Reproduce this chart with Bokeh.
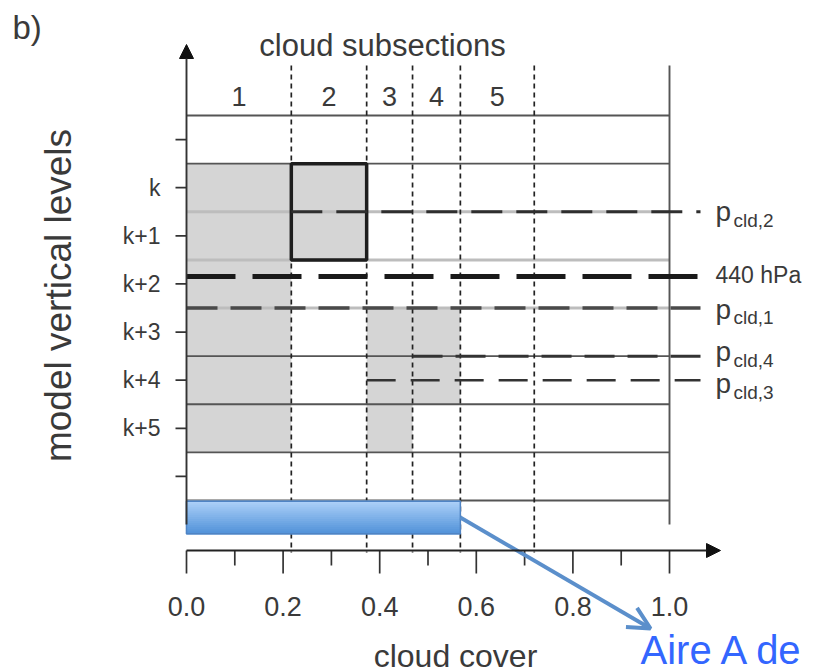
import numpy as np
from bokeh.plotting import figure
from bokeh.models import Range1d, Arrow, NormalHead, OpenHead, ColumnDataSource
from bokeh.core.properties import value
from bokeh.embed import file_html
from bokeh.resources import INLINE

# ---------------- data ----------------
subsection_edges = [0.0, 0.217, 0.373, 0.468, 0.567, 0.72]
subsection_labels = ["1", "2", "3", "4", "5"]
cloud_top_level = [0, 0, 3, 3]        # first cloudy level (k+n) of subsections 1-4
cloud_bottom_level = [5, 1, 5, 4]     # last cloudy level of subsections 1-4
level_values = [-1, 0, 1, 2, 3, 4, 5, 6]
level_labels = ["", "k", "k+1", "k+2", "k+3", "k+4", "k+5", ""]
cover_ticks = [0.0, 0.2, 0.4, 0.6, 0.8, 1.0]
cover_tick_labels = ["0.0", "0.2", "0.4", "0.6", "0.8", "1.0"]
cover_minor_ticks = [0.1, 0.3, 0.5, 0.7, 0.9]
total_cover = 0.567
p_main = ["p", "440 hPa", "p", "p", "p"]
p_sub = ["cld,2", "", "cld,1", "cld,4", "cld,3"]
p_levels = [0.5, 1.845, 2.5, 3.5, 4.0]
p_start = [0.217, 0.0, 0.0, 0.468, 0.373]

# ---------------- layout helpers (pixel -> data) ----------------
def xd(px):
    return (px - 186.0) / 483.0

def yd(py):
    return (py - 115.0) / 48.125 - 1.5

def ypx(lev):
    return 115.0 + (lev + 1.5) * 48.125

FONT = value("Liberation Sans")
TXT = "#3a3a3a"

p = figure(width=818, height=672, output_backend="svg", toolbar_location=None,
           x_range=Range1d(xd(0), xd(818)), y_range=Range1d(yd(672), yd(0)),
           min_border=0, x_axis_location=None, y_axis_location=None,
           outline_line_color=None, background_fill_color="white")
p.grid.visible = False

# gray cloudy cells
cl = subsection_edges[:4]
cr = subsection_edges[1:5]
p.quad(left=cl, right=cr,
       top=[t - 0.5 for t in cloud_top_level],
       bottom=[b + 0.5 for b in cloud_bottom_level],
       fill_color="#d5d5d5", line_color=None)

# level boundary lines
bounds = np.arange(-1.5, 7.0, 1.0)
light = [b in (0.5, 1.5, 2.5) for b in bounds]
p.segment(x0=[0.0] * len(bounds), x1=[1.0] * len(bounds), y0=bounds, y1=bounds,
          line_color=["#bdbdbd" if l else "#555555" for l in light],
          line_width=[3.0 if l else 1.8 for l in light])

# vertical dashed subsection separators
seps = subsection_edges[1:]
p.segment(x0=seps, x1=seps, y0=[yd(65)] * len(seps), y1=[yd(552)] * len(seps),
          line_color="#222222", line_width=1.7, line_dash="5 4")

# right border
p.segment(x0=[1.0], x1=[1.0], y0=[yd(65)], y1=[yd(524)], line_color="#555555", line_width=1.9)

# thick box around subsection 2 cloud
p.quad(left=[subsection_edges[1]], right=[subsection_edges[2]],
       top=[cloud_top_level[1] - 0.5], bottom=[cloud_bottom_level[1] + 0.5],
       fill_color=None, line_color="#1e1e1e", line_width=3.5)

# pressure dashed lines
x_end = xd(700)
styles = [("#2f2f2f", 3.0, "31 14"), ("#1a1a1a", 5.0, "49 17"), ("#4a4a4a", 3.4, "31 13"),
          ("#333333", 3.0, "30 13"), ("#333333", 2.4, "29 15")]
for lev, xs, (c, w, d) in zip(p_levels, p_start, styles):
    p.line([xs, x_end], [lev, lev], line_color=c, line_width=w, line_dash=d)

# pressure labels (visual centres, px)
main_y = [211, 274, 309, 351, 383]
sub_y = [219.5, 274, 316.5, 359.5, 391.5]
src_main = ColumnDataSource(dict(x=[xd(715)] * 5, y=[yd(v) for v in main_y],
                                 t=p_main, s=["28px", "23px", "28px", "28px", "28px"]))
p.text(x="x", y="y", text="t", text_font_size="s", source=src_main, text_font=FONT,
       text_color=TXT, text_baseline="middle", text_align="left")
src_sub = ColumnDataSource(dict(x=[xd(733)] * 5, y=[yd(v) for v in sub_y], t=p_sub))
p.text(x="x", y="y", text="t", source=src_sub, text_font=FONT, text_font_size="19px",
       text_color=TXT, text_baseline="middle", text_align="left")

# blue total-cover bar (vertical gradient)
nb = 16
ytop, ybot = yd(500.7), yd(533.3)
edges = np.linspace(ytop, ybot, nb + 1)
c0 = np.array([172, 208, 248])
c1 = np.array([84, 148, 218])
cols = ["#%02x%02x%02x" % tuple(np.round(c0 + (c1 - c0) * i / (nb - 1)).astype(int)) for i in range(nb)]
p.quad(left=[0.0] * nb, right=[total_cover] * nb, top=edges[:-1], bottom=edges[1:],
       fill_color=cols, line_color=cols, line_width=1.2)
p.quad(left=[0.0], right=[total_cover], top=[ytop], bottom=[ybot],
       fill_color=None, line_color="#4f84c4", line_width=1.5)

# blue arrow
p.add_layout(Arrow(end=OpenHead(size=22, line_color="#5b8fcb", line_width=4),
                   x_start=total_cover, y_start=yd(517), x_end=xd(650), y_end=yd(628),
                   line_color="#5b8fcb", line_width=3.8))

# y axis with arrow
p.add_layout(Arrow(end=NormalHead(size=14, fill_color="#111111", line_color="#111111"),
                   x_start=0.0, y_start=yd(524), x_end=0.0, y_end=yd(44),
                   line_color="#333333", line_width=1.9))
p.segment(x0=[xd(175)] * len(level_values), x1=[0.0] * len(level_values),
          y0=level_values, y1=level_values, line_color="#333333", line_width=1.7)
p.text(x=[xd(160)] * len(level_values), y=level_values, text=level_labels, text_font=FONT,
       text_font_size="23px", text_color=TXT, text_align="right", text_baseline="middle")

# x axis with arrow
ax_y = yd(550)
p.add_layout(Arrow(end=NormalHead(size=14, fill_color="#111111", line_color="#111111"),
                   x_start=0.0, y_start=ax_y, x_end=xd(720), y_end=ax_y,
                   line_color="#222222", line_width=1.9))
p.segment(x0=cover_ticks, x1=cover_ticks, y0=[ax_y] * 6, y1=[yd(573)] * 6,
          line_color="#333333", line_width=1.7)
p.segment(x0=cover_minor_ticks, x1=cover_minor_ticks, y0=[ax_y] * 5, y1=[yd(565)] * 5,
          line_color="#333333", line_width=1.7)
p.text(x=cover_ticks, y=[yd(606)] * 6, text=cover_tick_labels, text_font=FONT,
       text_font_size="27px", text_color=TXT, text_align="center", text_baseline="middle")

# titles
p.text(x=[xd(455)], y=[yd(655)], text=["cloud cover"], text_font=FONT, text_font_size="32px",
       text_color=TXT, text_align="center", text_baseline="middle")
p.text(x=[xd(382)], y=[yd(45)], text=["cloud subsections"], text_font=FONT, text_font_size="31px",
       text_color=TXT, text_align="center", text_baseline="middle")
centers = [(a + b) / 2 for a, b in zip(subsection_edges[:-1], subsection_edges[1:])]
p.text(x=centers, y=[yd(96)] * 5, text=subsection_labels, text_font=FONT, text_font_size="27px",
       text_color=TXT, text_align="center", text_baseline="middle")
p.text(x=[xd(58)], y=[yd(295)], text=["model vertical levels"], text_font=FONT,
       text_font_size="37px", text_color=TXT, text_align="center", text_baseline="middle",
       angle=np.pi / 2)
p.text(x=[xd(12)], y=[yd(27)], text=["b)"], text_font=FONT, text_font_size="33px",
       text_color=TXT, text_align="left", text_baseline="middle")
p.text(x=[xd(640)], y=[yd(649)], text=["Aire A de"], text_font=FONT, text_font_size="40px",
       text_color="#3366ff", text_align="left", text_baseline="middle")

open("out.html", "w").write(file_html(p, INLINE))
